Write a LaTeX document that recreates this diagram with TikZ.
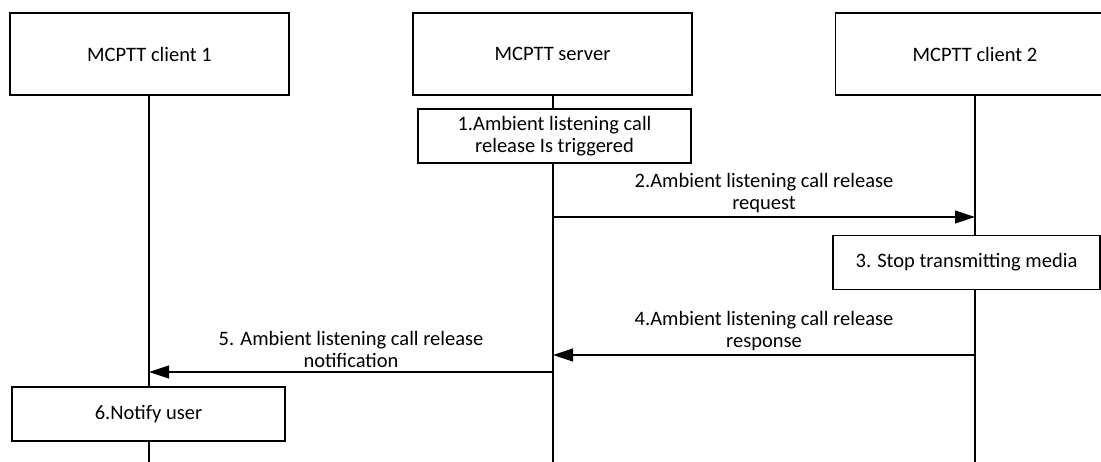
\documentclass[tikz,border=0pt]{standalone}
\usepackage{fontspec}
\setmainfont{Carlito}
\usetikzlibrary{arrows.meta,positioning}

\begin{document}
\begin{tikzpicture}[x=1pt,y=-1pt,
    entity/.style={draw, fill=white, line width=1.1pt, minimum width=279pt, minimum height=82pt, inner sep=0pt, font=\fontsize{20.5}{22}\selectfont},
    actionbox/.style={draw, fill=white, line width=1.1pt, minimum width=273pt, minimum height=54pt, inner sep=0pt, align=center, font=\fontsize{20.5}{22}\selectfont},
    lifeline/.style={line width=1.1pt},
    msg/.style={line width=1.1pt, -{Triangle[length=20pt,width=13pt]}},
    msglabel/.style={midway, above, inner sep=4pt, align=center, font=\fontsize{20.5}{22}\selectfont}
  ]
    \clip (0,0) rectangle (1101,462);
    % Entities
    \node[entity] (cl1) at (149.5,54) {MCPTT client 1};
    \node[entity] (srv) at (552.5,54) {MCPTT server};
    \node[entity] (cl2) at (975,54) {MCPTT client 2};
    % Lifelines
    \coordinate (cl1end) at (149,470);
    \coordinate (srvend) at (553,470);
    \coordinate (cl2end) at (975,470);
    \draw[lifeline] (cl1.south -| cl1end) -- (cl1end);
    \draw[lifeline] (srv.south -| srvend) -- (srvend);
    \draw[lifeline] (cl2.south -| cl2end) -- (cl2end);
    % Step 1
    \node[actionbox] (trig) at (554.5,136) {1.Ambient listening call\\release Is triggered};
    % Step 2
    \coordinate (req-s) at (553,217);
    \coordinate (req-e) at (975,217);
    \draw[msg] (req-s) -- (req-e) node[msglabel] {2.Ambient listening call release\\request};
    % Step 3
    \node[actionbox, minimum width=267pt] (stop) at (966.5,262.5) {3. Stop transmitting media};
    % Step 4
    \coordinate (rsp-s) at (975,355);
    \coordinate (rsp-e) at (553,355);
    \draw[msg] (rsp-s) -- (rsp-e) node[msglabel] {4.Ambient listening call release\\response};
    % Step 5
    \coordinate (ntf-s) at (553,372);
    \coordinate (ntf-e) at (149,372);
    \draw[msg] (ntf-s) -- (ntf-e) node[msglabel] {5. Ambient listening call release\\notification};
    % Step 6
    \node[actionbox] (user) at (148.5,414) {6.Notify user};
  \end{tikzpicture}
\end{document}
